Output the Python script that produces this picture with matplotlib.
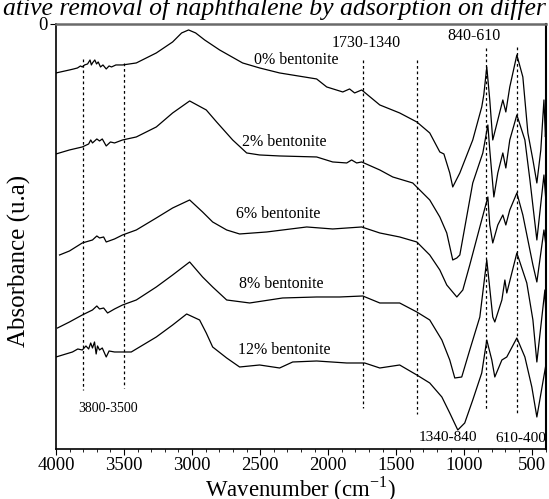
import numpy as np
import matplotlib
matplotlib.use('Agg')
import matplotlib.pyplot as plt
from matplotlib.ticker import MultipleLocator

plt.rcParams['font.family'] = ['Liberation Serif', 'DejaVu Serif']
plt.rcParams['mathtext.fontset'] = 'custom'
plt.rcParams['mathtext.rm'] = 'Liberation Serif'

# spectra (stacked, arbitrary absorbance units)
wn_0 = [4000, 3901, 3870, 3842, 3820, 3807, 3790, 3768, 3750, 3740, 3732, 3715, 3702, 3690, 3673,
        3655, 3631, 3610, 3592, 3560, 3511, 3410, 3263, 3143, 3077,
        3026, 2974, 2908, 2798, 2629, 2504, 2357, 2085, 2011, 1893, 1843, 1806, 1754, 1621, 1475,
        1349, 1254, 1180, 1150, 1107, 1085, 1033, 938, 872, 857, 835, 813, 791, 754, 717, 695,
        666, 614, 570, 533, 496, 467, 438, 415, 404, 400]
ab_0 = [-0.49, -0.46, -0.45, -0.44, -0.42, -0.43, -0.41, -0.40, -0.36, -0.41, -0.39, -0.36, -0.40,
        -0.38, -0.43, -0.41, -0.45, -0.42, -0.43, -0.41, -0.41, -0.39, -0.29,
        -0.18, -0.09, -0.06, -0.09, -0.16, -0.26, -0.39, -0.44, -0.49, -0.55, -0.63, -0.68, -0.65,
        -0.69, -0.66, -0.81, -0.89, -0.98, -1.09, -1.28, -1.30, -1.49, -1.63, -1.49, -1.16, -0.83,
        -0.71, -0.43, -0.76, -1.16, -0.96, -0.76, -0.88, -0.63, -0.31, -0.53, -1.09, -1.36, -1.59,
        -1.26, -0.76, -1.13, -1.01]

wn_2 = [4000, 3901, 3807, 3760, 3745, 3732, 3700, 3680, 3660, 3631, 3600, 3570, 3511, 3410, 3263,
        3143, 3018, 2896, 2820, 2702,
        2599, 2504, 2357, 2085, 1967, 1864, 1828, 1791, 1754, 1621, 1526, 1379, 1254, 1180, 1129,
        1085, 1055, 1033, 938, 864, 827, 813, 783, 754, 717, 695, 666, 614, 555, 518, 467, 415, 401]
ab_2 = [-1.30, -1.26, -1.23, -1.20, -1.16, -1.19, -1.15, -1.17, -1.15, -1.22, -1.18, -1.19, -1.16,
        -1.13, -1.03, -0.89, -0.77, -0.86,
        -0.98, -1.16, -1.29, -1.31, -1.32, -1.33, -1.38, -1.39, -1.36, -1.39, -1.38, -1.46, -1.53,
        -1.59, -1.76, -1.93, -2.09, -2.36, -2.34, -2.31, -1.59, -1.29, -1.01, -1.26, -1.73, -1.49,
        -1.29, -1.44, -1.16, -0.91, -1.16, -1.56, -2.16, -1.51, -1.76]

wn_6 = [3974, 3901, 3807, 3732, 3700, 3680, 3650, 3631, 3570, 3511, 3410, 3263, 3143, 3018, 2923,
        2849, 2746,
        2651, 2452, 2158, 1967, 1754, 1621, 1475, 1349, 1254, 1180, 1129, 1055, 1011, 960, 886,
        827, 813, 791, 754, 717, 695, 666, 614, 570, 533, 496, 467, 415, 401]
ab_6 = [-2.31, -2.27, -2.19, -2.16, -2.12, -2.14, -2.13, -2.18, -2.15, -2.11, -2.06, -1.94, -1.84,
        -1.76, -1.88, -1.98, -2.06, -2.10, -2.08, -2.03, -2.05, -2.03, -2.09, -2.13, -2.18, -2.31,
        -2.46, -2.61, -2.73, -2.66, -2.41, -2.03, -1.73, -2.01, -2.19, -2.01, -1.91, -2.01, -1.86,
        -1.69, -1.91, -2.16, -2.41, -2.58, -2.06, -2.21]

wn_8 = [3989, 3901, 3807, 3732, 3700, 3680, 3650, 3621, 3570, 3511, 3410, 3263, 3143, 3018, 2923,
        2849, 2746,
        2577, 2335, 2085, 1916, 1746, 1621, 1475, 1349, 1254, 1165, 1107, 1070, 1019, 960, 886,
        835, 791, 776, 724, 702, 688, 614, 541, 496, 467, 408, 401]
ab_8 = [-3.04, -2.98, -2.91, -2.86, -2.82, -2.85, -2.84, -2.89, -2.85, -2.81, -2.76, -2.63, -2.51,
        -2.38, -2.53, -2.63, -2.76, -2.79, -2.74, -2.73, -2.73, -2.72, -2.79, -2.79, -2.88, -2.96,
        -3.16, -3.36, -3.54, -3.53, -3.26, -2.93, -2.36, -2.93, -2.98, -2.76, -2.56, -2.69, -2.29,
        -2.59, -2.96, -3.38, -2.66, -2.91]

wn_12 = [4000, 3879, 3840, 3807, 3780, 3760, 3745, 3732, 3717, 3705, 3695, 3680, 3660, 3631, 3610,
         3570, 3511, 3447, 3263, 3143, 3040, 2945,
         2896, 2849, 2746, 2651, 2504, 2357, 2261, 2085, 1864, 1732, 1621, 1475, 1349, 1254, 1165,
         1107, 1048, 997, 938, 872, 835, 798, 776, 724, 688, 614, 555, 504, 467, 401]
ab_12 = [-3.33, -3.28, -3.25, -3.26, -3.22, -3.25, -3.19, -3.24, -3.18, -3.30, -3.22, -3.26, -3.24,
         -3.33, -3.27, -3.28, -3.28, -3.28, -3.13, -3.01,
         -2.90, -2.96, -3.09, -3.23, -3.34, -3.43, -3.41, -3.44, -3.38, -3.37, -3.39, -3.39, -3.44,
         -3.41, -3.51, -3.59, -3.73, -3.89, -4.06, -3.99, -3.76, -3.49, -3.16, -3.36, -3.53, -3.36,
         -3.33, -3.14, -3.33, -3.63, -3.93, -3.41]

spectra = [(wn_0, ab_0), (wn_2, ab_2), (wn_6, ab_6), (wn_8, ab_8), (wn_12, ab_12)]

sample_labels = ['0% bentonite', '2% bentonite', '6% bentonite', '8% bentonite', '12% bentonite']
sample_label_x = [2232, 2320, 2364, 2342, 2320]
sample_label_y = [-0.36, -1.18, -1.90, -2.60, -3.26]

# dashed band markers
band_x = [3800, 3500, 1745, 1345, 843, 613]
band_top = [-0.35, -0.39, -0.36, -0.36, -0.24, -0.23]
band_bottom = [-3.66, -3.64, -3.84, -3.90, -3.85, -3.89]

range_labels = ['3800-3500', '1730-1340', '840-610', '1340-840', '610-400']
range_x = [3621, 1724, 930, 1121, 585]
range_y = [-3.85, -0.19, -0.12, -4.14, -4.15]
range_size = [10, 11.5, 11.5, 11, 11]

fig = plt.figure(figsize=(5.49, 4.99), dpi=100)
ax = fig.add_axes([0.102, 0.1002, 0.8925, 0.8518])

for wn, ab in spectra:
    ax.plot(wn, ab, color='black', lw=0.9)

for i in range(len(band_x)):
    ax.plot([band_x[i], band_x[i]], [band_top[i], band_bottom[i]], color='black', lw=0.9,
            linestyle=(0, (2.2, 2.2)))

for i in range(len(sample_labels)):
    ax.text(sample_label_x[i], sample_label_y[i], sample_labels[i], ha='center', va='center',
            fontsize=11.5)

for i in range(len(range_labels)):
    ax.text(range_x[i], range_y[i], range_labels[i], ha='center', va='center', fontsize=range_size[i])

ax.set_xlim(4000, 400)
ax.set_ylim(-4.25, 0)
ax.xaxis.set_major_locator(MultipleLocator(500))
ax.xaxis.set_minor_locator(MultipleLocator(100))
ax.set_yticks([0])
ax.tick_params(axis='both', which='major', direction='out', length=4, labelsize=13.5, pad=2)
ax.tick_params(axis='x', which='minor', direction='out', length=2)

for s in ['left', 'bottom']:
    ax.spines[s].set_linewidth(1.2)
ax.spines['right'].set_linewidth(1.5)
ax.spines['top'].set_color('#6a6a6a')
ax.spines['top'].set_linewidth(1.8)

ax.set_xlabel(r'Wavenumber (cm$^{\mathrm{-1}}$)', fontsize=16.5, labelpad=0)
ax.set_ylabel('Absorbance (u.a)', fontsize=18)
ax.yaxis.set_label_coords(-0.05, 0.442)

fig.text(0.5, 0.970, 'ative removal of naphthalene by adsorption on differ', ha='center',
         va='baseline', fontsize=18.5, style='italic')

fig.savefig('out.png', dpi=100)
